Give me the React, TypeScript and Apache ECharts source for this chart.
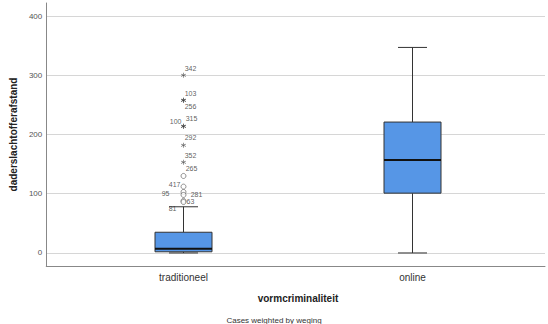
import React, { useEffect, useRef } from 'react';
import * as echarts from 'echarts';

const categories = ['traditioneel', 'online'];
const boxMin = [0, 0];
const boxQ1 = [2, 101];
const boxMedian = [7, 157];
const boxQ3 = [35, 221];
const boxMax = [78, 347];
const yTicks = [0, 100, 200, 300, 400];

// extreme values (stars) of "traditioneel"
const extremeValues = [300, 258, 258, 214, 214, 182, 153];
const extremeCases = ['342', '103', '256', '315', '100', '292', '352'];
// outliers (circles) of "traditioneel"
const outlierValues = [130, 112, 103, 98, 88, 86];
const outlierCases = ['265', '417', '95', '281', '63', '81'];

// label placement (styling only)
const labelStyle: Record<string, { offset: number[]; align: string }> = {
  '342': { offset: [7, -7], align: 'center' },
  '103': { offset: [7, -7], align: 'center' },
  '256': { offset: [7, 6], align: 'center' },
  '315': { offset: [8, -8], align: 'center' },
  '100': { offset: [-2, -5], align: 'right' },
  '292': { offset: [7, -8], align: 'center' },
  '352': { offset: [7, -7], align: 'center' },
  '265': { offset: [8, -7], align: 'center' },
  '417': { offset: [-3, -2], align: 'right' },
  '95': { offset: [-14, 2], align: 'right' },
  '281': { offset: [13, 0], align: 'center' },
  '63': { offset: [7, 1], align: 'center' },
  '81': { offset: [-7, 6], align: 'right' },
};

const STAR =
  'path://M4.4 0L5.6 0L5.6 10L4.4 10Z M0.37 3.02L9.03 8.02L9.63 6.98L0.97 1.98Z M0.97 8.02L9.63 3.02L9.03 1.98L0.37 6.98Z';

const FONT = '"Liberation Sans", Arial, sans-serif';
const Y_MIN = -22;
const Y_MAX = 422;

export default function App() {
  const ref = useRef<HTMLDivElement>(null);
  useEffect(() => {
    if (!ref.current) return;
    const chart = echarts.init(ref.current, undefined, { renderer: 'svg' });
    const boxData = categories.map((_, i) => [i, boxMin[i], boxQ1[i], boxMedian[i], boxQ3[i], boxMax[i]]);
    const mkPoint = (v: number, name: string) => ({
      value: [0, v],
      name,
      label: { offset: labelStyle[name].offset, align: labelStyle[name].align },
    });
    const pointLabel = {
      show: true,
      position: 'inside',
      formatter: '{b}',
      fontSize: 7,
      color: '#333',
      fontFamily: FONT,
    };
    chart.setOption({
      animation: false,
      textStyle: { fontFamily: FONT },
      title: {
        text: 'Cases weighted by weging',
        left: 'center',
        top: 311,
        textStyle: { fontSize: 8, fontWeight: 'normal', color: '#333', fontFamily: FONT },
      },
      grid: [
        { left: 44, right: 3, top: 3, bottom: 58 },
        { left: 69, right: 21, top: 3, bottom: 58 },
      ],
      xAxis: [
        {
          gridIndex: 0,
          type: 'value',
          min: 0,
          max: 1,
          axisLine: { show: true, onZero: false, lineStyle: { color: '#888', width: 1 } },
          axisTick: { show: false },
          axisLabel: { show: false },
          splitLine: { show: false },
        },
        {
          gridIndex: 1,
          type: 'category',
          data: categories,
          axisLine: { show: false },
          axisTick: { show: false },
          axisLabel: { color: '#333', fontSize: 10, margin: 6, fontFamily: FONT },
          name: 'vormcriminaliteit',
          nameLocation: 'middle',
          nameGap: 27,
          nameTextStyle: { fontSize: 10, fontWeight: 'bold', color: '#222', fontFamily: FONT },
        },
      ],
      yAxis: [
        {
          gridIndex: 0,
          type: 'value',
          min: Y_MIN,
          max: Y_MAX,
          axisLine: { show: true, lineStyle: { color: '#888', width: 1 } },
          axisTick: { show: false, customValues: yTicks },
          axisLabel: { customValues: yTicks, color: '#555', fontSize: 8, margin: 4, fontFamily: FONT },
          splitLine: { show: true, lineStyle: { color: '#d6d6d6', width: 1 } },
          name: 'daderslachtofferafstand',
          nameLocation: 'middle',
          nameGap: 22,
          nameTextStyle: { fontSize: 10, fontWeight: 'bold', color: '#222', fontFamily: FONT },
        },
        {
          gridIndex: 1,
          type: 'value',
          min: Y_MIN,
          max: Y_MAX,
          show: false,
          splitLine: { show: false },
        },
      ],
      series: [
        {
          type: 'custom',
          xAxisIndex: 1,
          yAxisIndex: 1,
          data: boxData,
          encode: { x: 0, y: [1, 2, 3, 4, 5] },
          renderItem: (params: any, api: any) => {
            const idx = api.value(0);
            const x = api.coord([idx, 0])[0];
            const y = (k: number) => api.coord([idx, api.value(k)])[1];
            const yMin = y(1), yQ1 = y(2), yMed = y(3), yQ3 = y(4), yMax = y(5);
            const boxW = 57;
            const capW = 29;
            const ls = { stroke: '#333', lineWidth: 1 };
            return {
              type: 'group',
              children: [
                { type: 'line', shape: { x1: x, y1: yMax, x2: x, y2: yQ3 }, style: ls },
                { type: 'line', shape: { x1: x, y1: yQ1, x2: x, y2: yMin }, style: ls },
                { type: 'line', shape: { x1: x - capW / 2, y1: yMax, x2: x + capW / 2, y2: yMax }, style: ls },
                { type: 'line', shape: { x1: x - capW / 2, y1: yMin, x2: x + capW / 2, y2: yMin }, style: ls },
                {
                  type: 'rect',
                  shape: { x: x - boxW / 2, y: yQ3, width: boxW, height: yQ1 - yQ3 },
                  style: { fill: '#5696e6', stroke: '#333', lineWidth: 1 },
                },
                {
                  type: 'line',
                  shape: { x1: x - boxW / 2, y1: yMed, x2: x + boxW / 2, y2: yMed },
                  style: { stroke: '#111', lineWidth: 2 },
                },
              ],
            };
          },
        },
        {
          type: 'scatter',
          xAxisIndex: 1,
          yAxisIndex: 1,
          symbol: 'circle',
          symbolSize: 5,
          itemStyle: { color: '#fff', borderColor: '#555', borderWidth: 0.8 },
          label: pointLabel,
          data: outlierValues.map((v, i) => mkPoint(v, outlierCases[i])),
        },
        {
          type: 'scatter',
          xAxisIndex: 1,
          yAxisIndex: 1,
          symbol: STAR,
          symbolSize: 5,
          itemStyle: { color: '#333' },
          label: pointLabel,
          data: extremeValues.map((v, i) => mkPoint(v, extremeCases[i])),
        },
      ],
    });
    return () => chart.dispose();
  }, []);
  return <div ref={ref} style={{ width: 548, height: 324, position: 'absolute', left: 0, top: 0 }} />;
}
